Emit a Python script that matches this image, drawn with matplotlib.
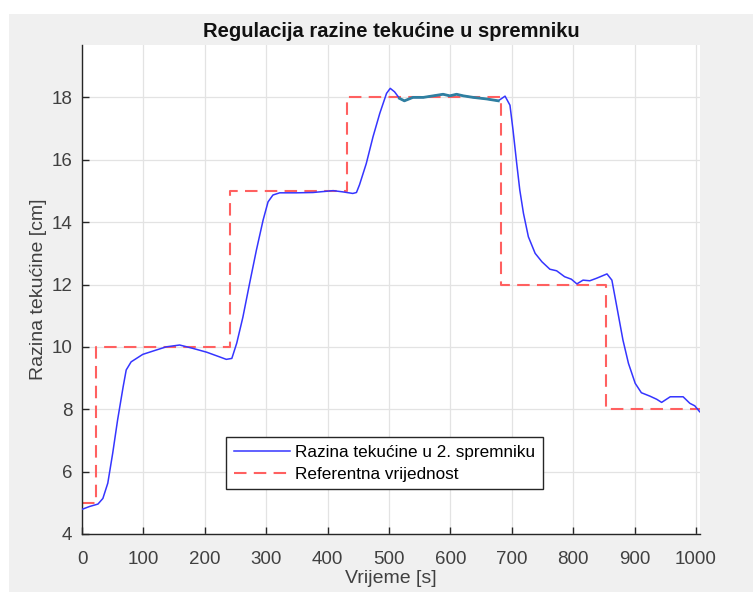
import numpy as np
import matplotlib.pyplot as plt
from matplotlib.patches import Rectangle

# Measured level in tank 2 [cm] over time [s]
time_s = [0, 12, 26, 34, 42, 50, 58, 67, 72, 80, 99, 121, 137, 159, 181, 203,
          224, 235, 244, 246, 252, 262, 273, 284, 295, 303, 311, 322, 349, 376,
          409, 425, 441, 447, 452, 463, 474, 485, 496, 502, 509, 517, 525, 539,
          556, 572, 588, 599, 610, 621, 637, 659, 678, 689, 697, 702, 708, 713,
          719, 727, 738, 749, 762, 773, 786, 797, 806, 816, 827, 838, 855, 863,
          871, 881, 890, 901, 911, 925, 936, 944, 958, 979, 990, 998, 1006]
level_cm = [4.79, 4.88, 4.96, 5.14, 5.63, 6.59, 7.66, 8.72, 9.26, 9.52, 9.76,
            9.90, 10.0, 10.06, 9.95, 9.83, 9.68, 9.60, 9.63, 9.75, 10.12, 10.95,
            12.04, 13.1, 14.07, 14.65, 14.87, 14.94, 14.94, 14.95, 15.01, 14.97,
            14.92, 14.95, 15.2, 15.88, 16.74, 17.49, 18.13, 18.29, 18.18, 17.97,
            17.89, 18.0, 18.0, 18.05, 18.1, 18.05, 18.1, 18.05, 18.0, 17.95,
            17.89, 18.04, 17.75, 16.95, 15.88, 15.03, 14.28, 13.53, 13.0, 12.73,
            12.49, 12.44, 12.25, 12.17, 12.02, 12.14, 12.12, 12.2, 12.34, 12.14,
            11.29, 10.22, 9.47, 8.83, 8.53, 8.42, 8.32, 8.22, 8.40, 8.40, 8.19,
            8.11, 7.92]

# Reference (setpoint) steps
ref_t = [0, 22.5, 241, 432, 682, 853, 1006]
ref_v = [5, 10, 15, 18, 12, 8, 8]

x_ticks = [0, 100, 200, 300, 400, 500, 600, 700, 800, 900, 1000]
y_ticks = [4, 6, 8, 10, 12, 14, 16, 18]

plt.rcParams['font.family'] = ['Liberation Sans', 'DejaVu Sans']

fig = plt.figure(figsize=(7.53, 5.92), dpi=100, facecolor='white')
# grey window background with a thin white margin on top/left
fig.patches.append(Rectangle((9 / 753, 0), 1, 1 - 14 / 592, transform=fig.transFigure,
                             facecolor='#f0f0f0', edgecolor='none', zorder=-10))

ax = fig.add_axes([82 / 753, 1 - 534 / 592, 618 / 753, 489 / 592])
ax.set_facecolor('white')

t = np.array(time_s)
h = np.array(level_cm)
ax.plot(t, h, color='#3535ff', lw=1.1, label='Razina tekućine u 2. spremniku', zorder=3)
seg = (t >= 517) & (t <= 678)
ax.plot(t[seg], h[seg], color='#2f7fa0', lw=2.0, zorder=4)
ax.plot(ref_t, ref_v, drawstyle='steps-post', color='#ff6060', lw=1.5,
        dashes=(6, 3.5), label='Referentna vrijednost', zorder=2)

ax.set_xlim(0, 1006.5)
ax.set_ylim(4, 19.68)
ax.set_xticks(x_ticks)
ax.set_yticks(y_ticks)
ax.grid(True, color='#e3e3e3', lw=0.9)
ax.set_axisbelow(True)
ax.tick_params(direction='in', length=5, width=1, colors='#262626', labelsize=13.5,
               labelcolor='#404040')
ax.tick_params(axis='x', pad=12)
ax.tick_params(axis='y', pad=7)
for side in ('top', 'right'):
    ax.spines[side].set_visible(False)
for side in ('left', 'bottom'):
    ax.spines[side].set_color('#262626')
    ax.spines[side].set_linewidth(1.0)

ax.set_title('Regulacija razine tekućine u spremniku', fontsize=14.5, fontweight='bold',
             color='#111111', pad=6)
ax.set_xlabel('Vrijeme [s]', fontsize=14, color='#404040', labelpad=2)
ax.set_ylabel('Razina tekućine [cm]', fontsize=14, color='#404040', labelpad=3)

leg = ax.legend(loc='upper left', bbox_to_anchor=(0.233, 0.198), fontsize=12.3,
                frameon=True, fancybox=False, framealpha=1, handlelength=3.3,
                borderpad=0.45, labelspacing=0.4, handletextpad=0.3, borderaxespad=0)
leg.get_frame().set_edgecolor('#262626')
leg.get_frame().set_linewidth(1.0)

fig.savefig('out.png', dpi=100, facecolor=fig.get_facecolor())
